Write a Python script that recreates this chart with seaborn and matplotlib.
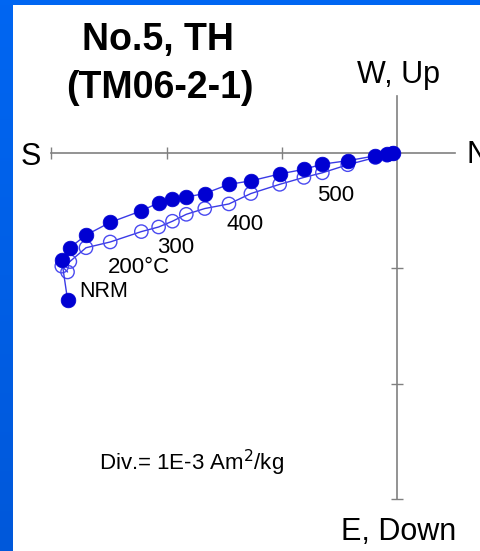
import numpy as np
import pandas as pd
import matplotlib
matplotlib.use("Agg")
import matplotlib.pyplot as plt
import seaborn as sns

# ---- data (units: 1E-3 Am^2/kg) ----
north = [-2.86, -2.91, -2.84, -2.70, -2.49, -2.22, -2.07, -1.95, -1.83, -1.67,
         -1.46, -1.27, -1.02, -0.81, -0.65, -0.43, -0.19, -0.09, -0.04]
east = [1.27, 0.93, 0.82, 0.71, 0.60, 0.50, 0.43, 0.40, 0.38, 0.35,
        0.27, 0.24, 0.18, 0.14, 0.095, 0.065, 0.023, 0.011, 0.0]
down = [1.03, 0.98, 0.94, 0.82, 0.77, 0.68, 0.64, 0.59, 0.53, 0.48,
        0.44, 0.35, 0.27, 0.21, 0.17, 0.10, 0.037, 0.017, 0.003]
step_labels = ["NRM", "200°C", "300", "400", "500"]
x_ticks = [-3, -2, -1]
y_ticks = [1, 2, 3]

sns.set_theme(style="white")
plt.rcParams["font.family"] = ["Liberation Sans", "DejaVu Sans"]

W, H = 481, 551
OX, OY, S = 397.3, 153.2, 115.3  # origin pixel and pixels per division

fig = plt.figure(figsize=(W / 100, H / 100), dpi=100, facecolor="white")

# blue frame (left and top strips)
left = fig.add_axes([0, 0, 13 / W, 1])
grad = np.linspace(0, 1, 256)[:, None]
cols = np.array([[0, 102, 242], [0, 88, 218]]) / 255.0
img = cols[0] * (1 - grad[..., None]) + cols[1] * grad[..., None]
left.imshow(img, aspect="auto", extent=[0, 1, 0, 1], origin="upper")
left.axis("off")
top = fig.add_axes([0, 1 - 5 / H, 1, 5 / H])
top.set_facecolor("#0066F2")
top.set_xticks([]); top.set_yticks([])
for sp in top.spines.values():
    sp.set_visible(False)

ax = fig.add_axes([0, 0, 1, 1])
ax.set_facecolor("none")
ax.set_xlim((0 - OX) / S, (W - OX) / S)
ax.set_ylim((H - OY) / S, (0 - OY) / S)

df = pd.DataFrame({"north": north, "east": east, "down": down})

line_col = "#3a3ae6"
# open circles: vertical projection
sns.lineplot(data=df, x="north", y="down", sort=False, estimator=None,
             color=line_col, lw=1.0, ax=ax, zorder=2)
sns.scatterplot(data=df, x="north", y="down", marker="o", s=92,
                color="#4a4af0", linewidth=1.0, ax=ax, zorder=3)
ax.collections[-1].set_facecolor("none")
ax.collections[-1].set_edgecolor("#4a4af0")
# filled circles: horizontal projection
sns.lineplot(data=df, x="north", y="east", sort=False, estimator=None,
             color=line_col, lw=1.0, ax=ax, zorder=4)
sns.scatterplot(data=df, x="north", y="east", marker="o", s=112,
                color="#0000D2", edgecolor="#0000D2", linewidth=0.5, ax=ax, zorder=5)

ax.set_xlabel(""); ax.set_ylabel("")

# axes through origin
for side in ["top", "right"]:
    ax.spines[side].set_visible(False)
ax.spines["left"].set_position(("data", 0))
ax.spines["bottom"].set_position(("data", 0))
ax.spines["bottom"].set_bounds(x_ticks[0], (455 - OX) / S)
ax.spines["left"].set_bounds((96 - OY) / S, y_ticks[-1])
for side in ["left", "bottom"]:
    ax.spines[side].set_color("#808080")
    ax.spines[side].set_linewidth(1.2)
    ax.spines[side].set_zorder(1)
ax.set_xticks(x_ticks)
ax.set_yticks(y_ticks)
ax.tick_params(direction="inout", length=8, width=1, color="#808080",
               bottom=True, left=True, labelbottom=False, labelleft=False)


def ft(x, y, s, **kw):
    fig.text(x / W, 1 - y / H, s, va="baseline", color="black", **kw)


ft(158, 50, "No.5, TH", ha="center", fontsize=27, fontweight="bold")
ft(159.5, 98, "(TM06-2-1)", ha="center", fontsize=27, fontweight="bold")
ft(399, 83, "W, Up", ha="center", fontsize=22)
ft(21, 165, "S", ha="left", fontsize=22)
ft(467, 163, "N", ha="left", fontsize=22)
ft(399, 540, "E, Down", ha="center", fontsize=22)
ft(99, 470.5, "Div.= 1E-3 Am$^{2}$/kg", ha="left", fontsize=16)

label_pos = [(79, 297), (108, 273), (157, 253), (227, 230), (317, 201)]
for lab, (lx, ly) in zip(step_labels, label_pos):
    ft(lx, ly, lab, ha="left", fontsize=16 if lab != "NRM" else 15.5)

fig.savefig("out.png", dpi=100, facecolor="white")
